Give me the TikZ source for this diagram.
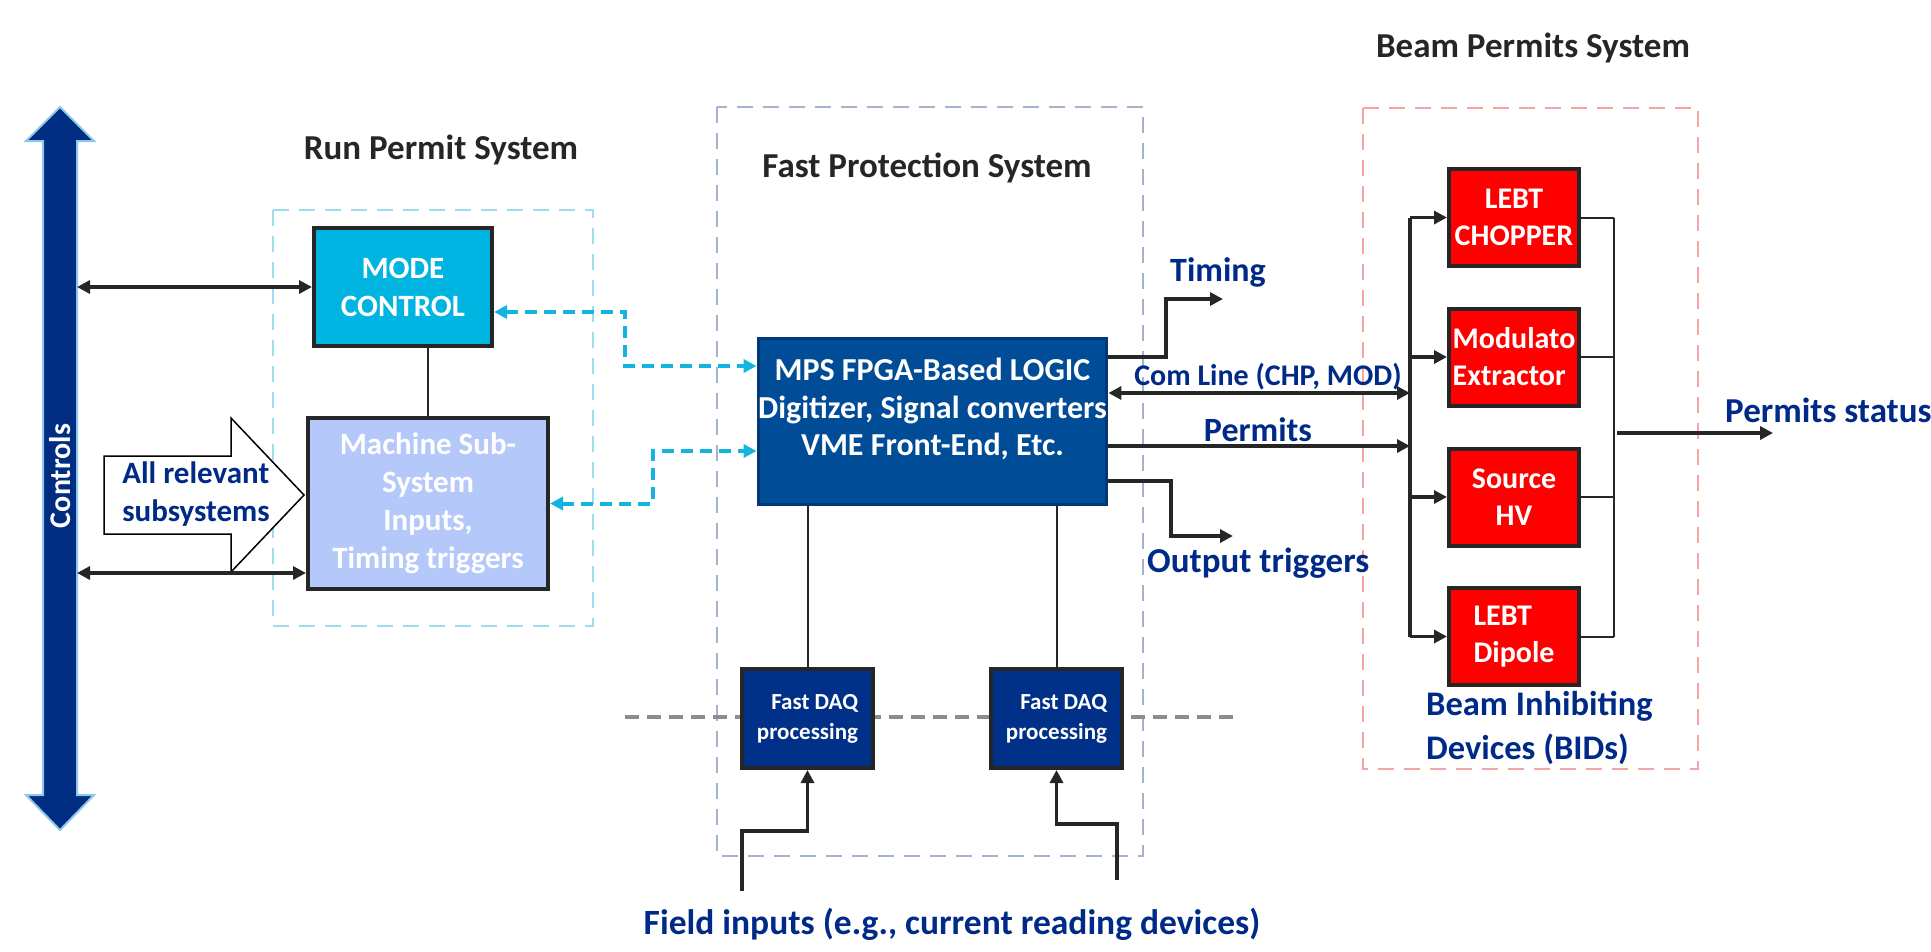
\documentclass[tikz,border=0pt]{standalone}
\usepackage{fontspec}
\setmainfont{Carlito}
\usetikzlibrary{arrows.meta}
\usetikzlibrary{calc}

\definecolor{txtnavy}{RGB}{0,42,135}
\definecolor{txtgray}{RGB}{38,38,38}
\definecolor{linegray}{RGB}{38,38,38}
\definecolor{modecyan}{RGB}{0,180,225}
\definecolor{subblue}{RGB}{180,200,250}
\definecolor{mpsblue}{RGB}{0,76,151}
\definecolor{mpsedge}{RGB}{0,56,120}
\definecolor{daqblue}{RGB}{0,48,135}
\definecolor{ctrlnavy}{RGB}{0,45,130}
\definecolor{ctrledge}{RGB}{140,200,235}
\definecolor{linkcyan}{RGB}{20,180,225}
\definecolor{rpsdash}{RGB}{160,220,240}
\definecolor{fpsdash}{RGB}{165,178,210}
\definecolor{bpsdash}{RGB}{245,165,165}
\definecolor{sepgray}{RGB}{140,140,140}

\begin{document}
\begin{tikzpicture}[x=1pt,y=-1pt,>={Triangle[length=13pt,width=13pt]},
	box/.style={draw=linegray,line width=4pt,inner sep=0pt,align=center,text=white,font=\fontsize{31}{38}\selectfont\bfseries},
	bidbox/.style={box,fill=red,minimum width=130pt,minimum height=97pt,font=\fontsize{30}{37}\selectfont\bfseries},
	daqbox/.style={box,fill=daqblue,minimum width=131pt,minimum height=99pt,align=right,font=\fontsize{23}{30}\selectfont\bfseries},
	title/.style={text=txtgray,font=\fontsize{35}{42}\selectfont\bfseries},
	lbl/.style={text=txtnavy,inner sep=0pt,font=\fontsize{31}{38}\selectfont\bfseries},
	frame/.style={line width=2pt,dash pattern=on 16pt off 10pt},
	link/.style={draw=linegray,line width=3.5pt},
	thinlink/.style={draw=linegray,line width=2pt},
	cyanlink/.style={draw=linkcyan,line width=4pt,dash pattern=on 12pt off 7pt,<->}]
	\useasboundingbox (0,0) rectangle (1931,951);

	% marcos de los tres sistemas
	\draw[frame,draw=rpsdash] (273,210) rectangle (593,626);
	\draw[frame,draw=fpsdash] (717,107) rectangle (1143,856);
	\draw[frame,draw=bpsdash] (1363,108) rectangle (1698,769);
	\draw[draw=sepgray,line width=4pt,dash pattern=on 14pt off 8pt] (625,717) -- (1237,717);

	% flecha de Controls
	\filldraw[fill=ctrlnavy,draw=ctrledge,line width=2pt]
		(43,141) -- (26,141) -- (60,107) -- (94,141) -- (77,141)
		-- (77,795) -- (94,795) -- (60,830) -- (26,795) -- (43,795) -- cycle;
	\node[rotate=90,text=white,font=\fontsize{30}{36}\selectfont\bfseries] (controls) at (60,476) {Controls};
	\coordinate (ctrlup) at (77,287);
	\coordinate (ctrllow) at (77,573);

	\draw[line width=1.5pt,fill=white] (104,456) -- (231,456) -- (231,418) -- (304,495)
		-- (231,572) -- (231,534) -- (104,534) -- cycle;
	\node[lbl,align=left] (allsub) at (196,494) {All relevant\\subsystems};

	\node[title] (rpstitle) at (441,150) {Run Permit System};
	\node[title] (fpstitle) at (927,168) {Fast Protection System};
	\node[title] (bpstitle) at (1533,48) {Beam Permits System};

	\node[box,fill=modecyan,minimum width=178pt,minimum height=118pt] (mode) at (403,287) {MODE\\CONTROL};
	\node[box,fill=subblue,minimum width=240pt,minimum height=171pt] (machine) at (428,503.5)
		{Machine Sub-\\System\\Inputs,\\Timing triggers};
	\node[box,fill=mpsblue,draw=mpsedge,line width=3pt,minimum width=346pt,minimum height=166pt,
		text depth=29pt,font=\fontsize{32}{37.5}\selectfont\bfseries] (mps) at (932.5,421.5)
		{MPS FPGA-Based LOGIC\\Digitizer, Signal converters\\VME Front-End, Etc.};
	\node[daqbox] (daqa) at (807.5,718.5) {Fast DAQ\\processing};
	\node[daqbox] (daqb) at (1056.5,718.5) {Fast DAQ\\processing};

	\node[bidbox] (chop) at (1514,217.5) {LEBT\\CHOPPER};
	\node[bidbox,align=left] (modul) at (1514,357) {Modulato\\Extractor};
	\node[bidbox] (src) at (1514,497) {Source\\HV};
	\node[bidbox,align=left] (dip) at (1514,636.5) {LEBT\\Dipole};

	\draw[link,<->] (ctrlup) -- (mode.west);
	\draw[link,<->] (ctrllow) -- (machine.west |- ctrllow);
	\draw[thinlink] (machine.north) -- (machine.north |- mode.south);
	\draw[thinlink] (daqa.north) -- (daqa.north |- mps.south);
	\draw[thinlink] (daqb.north) -- (daqb.north |- mps.south);

	\coordinate (bendA) at (625,366);
	\coordinate (bendB) at (653,451);
	\draw[cyanlink] (mode.east |- 0,312) -| (bendA) -- (mps.west |- bendA);
	\draw[cyanlink] (machine.east) -| (bendB) -- (mps.west |- bendB);

	% salidas del MPS
	\coordinate (timingend) at (1223,299);
	\coordinate (outend) at (1233,536);
	\coordinate (bustop) at (1410,217.5);
	\coordinate (busbot) at (1410,636.5);
	\coordinate (rbustop) at (1614,217.5);
	\coordinate (rbusbot) at (1614,636.5);
	\coordinate (statusend) at (1773,433);
	\draw[link,->] (mps.east |- 0,357) -- (1166,357) |- (timingend);
	\draw[link,<->] (mps.east |- 0,393) -- (bustop |- 0,393);
	\draw[link,->] (mps.east |- 0,446) -- (bustop |- 0,446);
	\draw[link,->] (mps.east |- 0,481) -- (1171,481) |- (outend);

	\draw[draw=linegray,line width=4pt] (bustop) -- (busbot);
	\draw[thinlink] (rbustop) -- (rbusbot);
	\foreach \b in {chop,modul,src,dip}{
		\draw[link,->] (bustop |- \b.west) -- (\b.west);
		\draw[thinlink] (\b.east) -- (rbustop |- \b.east);
	}
	\draw[link,->] (1617,433) -- (statusend);

	\coordinate (fielda) at (742,891);
	\coordinate (fieldb) at (1117,880);
	\draw[link,->] (fielda) |- (daqa.south |- 0,831) -- (daqa.south);
	\draw[link,->] (fieldb) |- (daqb.south |- 0,824) -- (daqb.south);

	\node[lbl,anchor=west,font=\fontsize{34}{40}\selectfont\bfseries] (timing) at (1170,272) {Timing};
	\node[lbl,font=\fontsize{30}{36}\selectfont\bfseries] (comline) at (1268,377) {Com Line (CHP, MOD)};
	\node[lbl,font=\fontsize{34}{40}\selectfont\bfseries] (permits) at (1258,430) {Permits};
	\node[lbl,anchor=west,font=\fontsize{35}{42}\selectfont\bfseries] (outtrig) at (1147,563) {Output triggers};
	\node[lbl,font=\fontsize{35.5}{42}\selectfont\bfseries] (field) at (952,924) {Field inputs (e.g., current reading devices)};
	\node[lbl,anchor=west,font=\fontsize{35}{42}\selectfont\bfseries] (status) at (1725,410) {Permits status};
	\node[lbl,anchor=west,align=left,font=\fontsize{34.5}{44}\selectfont\bfseries] (bids) at (1426,728) {Beam Inhibiting\\Devices (BIDs)};
\end{tikzpicture}
\end{document}
